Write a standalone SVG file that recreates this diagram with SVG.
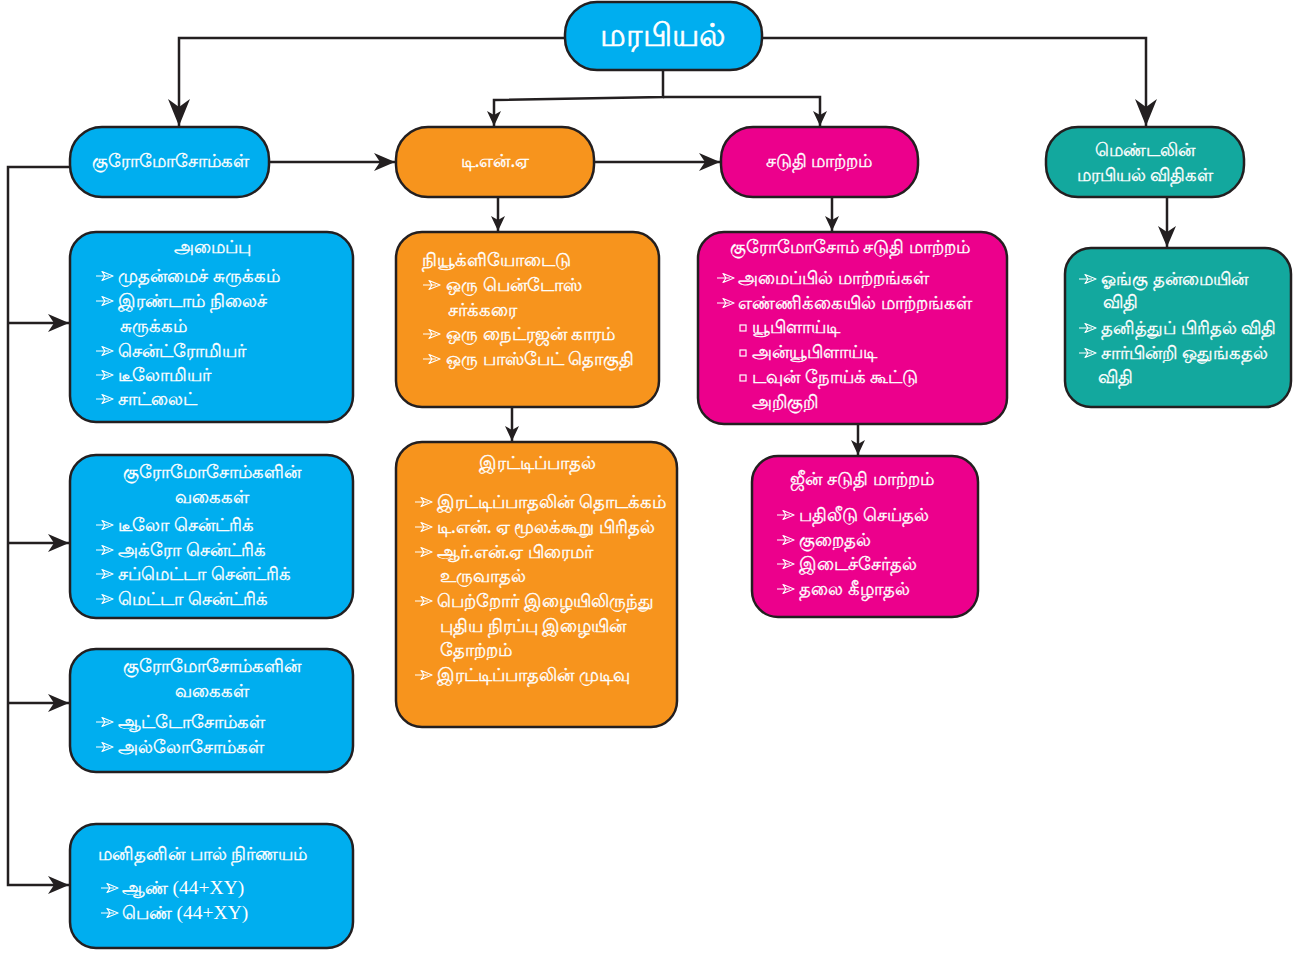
<svg xmlns="http://www.w3.org/2000/svg" xmlns:xlink="http://www.w3.org/1999/xlink" width="1297" height="953" viewBox="0 0 1297 953">
<style>
.n{stroke:#231f20;stroke-width:2.5}
.blue{fill:#00aeef}.org{fill:#f7941d}.mag{fill:#ec008c}.teal{fill:#13a89e}
text{font-family:"Noto Sans",sans-serif;fill:#fff;font-size:17.5px;stroke:#fff;stroke-width:0.35}
.c{text-anchor:middle}
.t{font-size:32px;stroke-width:0.6}
.s{font-family:"Liberation Serif",serif;stroke-width:0}
.cn{fill:none;stroke:#231f20;stroke-width:2.5}
</style>
<defs>
<marker id="ab" markerUnits="userSpaceOnUse" markerWidth="28" markerHeight="24" viewBox="0 -12 28 24" refX="27" refY="0" orient="auto"><path d="M0,-11 L27,0 L0,11 L8,0 Z" fill="#231f20"/></marker>
<marker id="am" markerUnits="userSpaceOnUse" markerWidth="22" markerHeight="20" viewBox="0 -10 22 20" refX="21" refY="0" orient="auto"><path d="M0,-9 L21,0 L0,9 L6,0 Z" fill="#231f20"/></marker>
<marker id="as" markerUnits="userSpaceOnUse" markerWidth="16" markerHeight="16" viewBox="0 -8 16 16" refX="15" refY="0" orient="auto"><path d="M0,-7 L15,0 L0,7 L4,0 Z" fill="#231f20"/></marker>
<symbol id="b" overflow="visible"><path d="M0,0 H13 M6,-4.5 L17,0 L6,4.5 L9,0 Z" fill="none" stroke="#fff" stroke-width="1.2" stroke-linejoin="round"/></symbol>
<symbol id="q" overflow="visible"><rect x="0" y="-3" width="6" height="6" fill="none" stroke="#fff" stroke-width="1.2"/></symbol>
</defs>

<g id="connectors">
<path class="cn" d="M565,38 H179 V126" marker-end="url(#ab)"/>
<path class="cn" d="M762,38 H1146 V126" marker-end="url(#ab)"/>
<path class="cn" d="M663,70 V97 L494,100 V126" marker-end="url(#as)"/>
<path class="cn" d="M663,97 H820 V126" marker-end="url(#as)"/>
<path class="cn" d="M269,162 H395" marker-end="url(#am)"/>
<path class="cn" d="M594,162 H720" marker-end="url(#am)"/>
<path class="cn" d="M70,167 H8 V885 H69" marker-end="url(#am)"/>
<path class="cn" d="M8,323 H69" marker-end="url(#am)"/>
<path class="cn" d="M8,543 H69" marker-end="url(#am)"/>
<path class="cn" d="M8,703 H69" marker-end="url(#am)"/>
<path class="cn" d="M498,197 V231" marker-end="url(#as)"/>
<path class="cn" d="M512,407 V441" marker-end="url(#as)"/>
<path class="cn" d="M832,197 V231" marker-end="url(#as)"/>
<path class="cn" d="M858,424 V455" marker-end="url(#as)"/>
<path class="cn" d="M1167,197 V247" marker-end="url(#am)"/>
</g>

<g id="root">
<rect class="n blue" x="565" y="2" width="197" height="68" rx="32"/>
<text class="c t" x="663" y="46">மரபியல்</text>
</g>

<g id="chromosomes">
<rect class="n blue" x="70" y="127" width="199" height="70" rx="32"/>
<text class="c" x="170" y="167">குரோமோசோம்கள்</text>
</g>

<g id="dna">
<rect class="n org" x="396" y="127" width="198" height="70" rx="32"/>
<text class="c" x="495" y="167">டி.என்.ஏ</text>
</g>

<g id="mutation">
<rect class="n mag" x="721" y="127" width="197" height="70" rx="32"/>
<text class="c" x="819" y="167">சடுதி மாற்றம்</text>
</g>

<g id="mendel">
<rect class="n teal" x="1046" y="127" width="198" height="70" rx="32"/>
<text class="c" x="1145" y="156">மெண்டலின்</text>
<text class="c" x="1145" y="181">மரபியல் விதிகள்</text>
</g>

<g id="structure">
<rect class="n blue" x="70" y="232" width="283" height="190" rx="26"/>
<text class="c" x="212" y="253">அமைப்பு</text>
<use href="#b" x="96" y="276"/><text x="118" y="282">முதன்மைச் சுருக்கம்</text>
<use href="#b" x="96" y="301"/><text x="118" y="307">இரண்டாம் நிலைச்</text>
<text x="120" y="332">சுருக்கம்</text>
<use href="#b" x="96" y="351"/><text x="118" y="357">சென்ட்ரோமியர்</text>
<use href="#b" x="96" y="375"/><text x="118" y="381">டீலோமியர்</text>
<use href="#b" x="96" y="399"/><text x="118" y="405">சாட்லைட்</text>
</g>

<g id="types1">
<rect class="n blue" x="70" y="455" width="283" height="163" rx="26"/>
<text class="c" x="212" y="478">குரோமோசோம்களின்</text>
<text class="c" x="212" y="503">வகைகள்</text>
<use href="#b" x="96" y="525"/><text x="118" y="531">டீலோ சென்ட்ரிக்</text>
<use href="#b" x="96" y="550"/><text x="118" y="556">அக்ரோ சென்ட்ரிக்</text>
<use href="#b" x="96" y="574"/><text x="118" y="580">சப்மெட்டா சென்ட்ரிக்</text>
<use href="#b" x="96" y="599"/><text x="118" y="605">மெட்டா சென்ட்ரிக்</text>
</g>

<g id="types2">
<rect class="n blue" x="70" y="649" width="283" height="123" rx="26"/>
<text class="c" x="212" y="672">குரோமோசோம்களின்</text>
<text class="c" x="212" y="697">வகைகள்</text>
<use href="#b" x="96" y="722"/><text x="118" y="728">ஆட்டோசோம்கள்</text>
<use href="#b" x="96" y="747"/><text x="118" y="753">அல்லோசோம்கள்</text>
</g>

<g id="sex">
<rect class="n blue" x="70" y="824" width="283" height="124" rx="26"/>
<text x="98" y="860">மனிதனின் பால் நிர்ணயம்</text>
<use href="#b" x="101" y="888"/><text x="122" y="894">ஆண் <tspan class="s" font-size="19.5">(44+XY)</tspan></text>
<use href="#b" x="101" y="913"/><text x="122" y="919">பெண் <tspan class="s" font-size="19.5">(44+XY)</tspan></text>
</g>

<g id="nucleotide">
<rect class="n org" x="396" y="232" width="263" height="175" rx="26"/>
<text x="422" y="266">நியூக்ளியோடைடு</text>
<use href="#b" x="423" y="285"/><text x="446" y="291">ஒரு பென்டோஸ்</text>
<text x="448" y="316">சர்க்கரை</text>
<use href="#b" x="423" y="334"/><text x="446" y="340">ஒரு நைட்ரஜன் காரம்</text>
<use href="#b" x="423" y="359"/><text x="446" y="365">ஒரு பாஸ்பேட் தொகுதி</text>
</g>

<g id="replication">
<rect class="n org" x="396" y="442" width="281" height="285" rx="26"/>
<text class="c" x="537" y="469">இரட்டிப்பாதல்</text>
<use href="#b" x="415" y="502"/><text x="437" y="508">இரட்டிப்பாதலின் தொடக்கம்</text>
<use href="#b" x="415" y="527"/><text x="437" y="533">டி.என். ஏ மூலக்கூறு பிரிதல்</text>
<use href="#b" x="415" y="552"/><text x="437" y="558">ஆர்.என்.ஏ பிரைமர்</text>
<text x="440" y="582">உருவாதல்</text>
<use href="#b" x="415" y="601"/><text x="437" y="607">பெற்றோர் இழையிலிருந்து</text>
<text x="440" y="632">புதிய நிரப்பு இழையின்</text>
<text x="440" y="656">தோற்றம்</text>
<use href="#b" x="415" y="675"/><text x="437" y="681">இரட்டிப்பாதலின் முடிவு</text>
</g>

<g id="chrom-mutation">
<rect class="n mag" x="698" y="232" width="309" height="192" rx="26"/>
<text class="c" x="850" y="253">குரோமோசோம் சடுதி மாற்றம்</text>
<use href="#b" x="717" y="278"/><text x="738" y="284">அமைப்பில் மாற்றங்கள்</text>
<use href="#b" x="717" y="303"/><text x="738" y="309">எண்ணிக்கையில் மாற்றங்கள்</text>
<use href="#q" x="740" y="328"/><text x="752" y="333">யூபிளாய்டி</text>
<use href="#q" x="740" y="353"/><text x="752" y="358">அன்யூபிளாய்டி</text>
<use href="#q" x="740" y="378"/><text x="752" y="383">டவுன் நோய்க் கூட்டு</text>
<text x="752" y="408">அறிகுறி</text>
</g>

<g id="gene-mutation">
<rect class="n mag" x="752" y="456" width="226" height="161" rx="26"/>
<text class="c" x="862" y="485">ஜீன் சடுதி மாற்றம்</text>
<use href="#b" x="777" y="515"/><text x="799" y="521">பதிலீடு செய்தல்</text>
<use href="#b" x="777" y="540"/><text x="799" y="546">குறைதல்</text>
<use href="#b" x="777" y="564"/><text x="799" y="570">இடைச்சேர்தல்</text>
<use href="#b" x="777" y="589"/><text x="799" y="595">தலை கீழாதல்</text>
</g>

<g id="laws">
<rect class="n teal" x="1065" y="248" width="226" height="159" rx="26"/>
<use href="#b" x="1079" y="279"/><text x="1101" y="285">ஓங்கு தன்மையின்</text>
<text x="1103" y="308">விதி</text>
<use href="#b" x="1079" y="328"/><text x="1101" y="334">தனித்துப் பிரிதல் விதி</text>
<use href="#b" x="1079" y="353"/><text x="1101" y="359">சார்பின்றி ஒதுங்கதல்</text>
<text x="1098" y="383">விதி</text>
</g>
</svg>
